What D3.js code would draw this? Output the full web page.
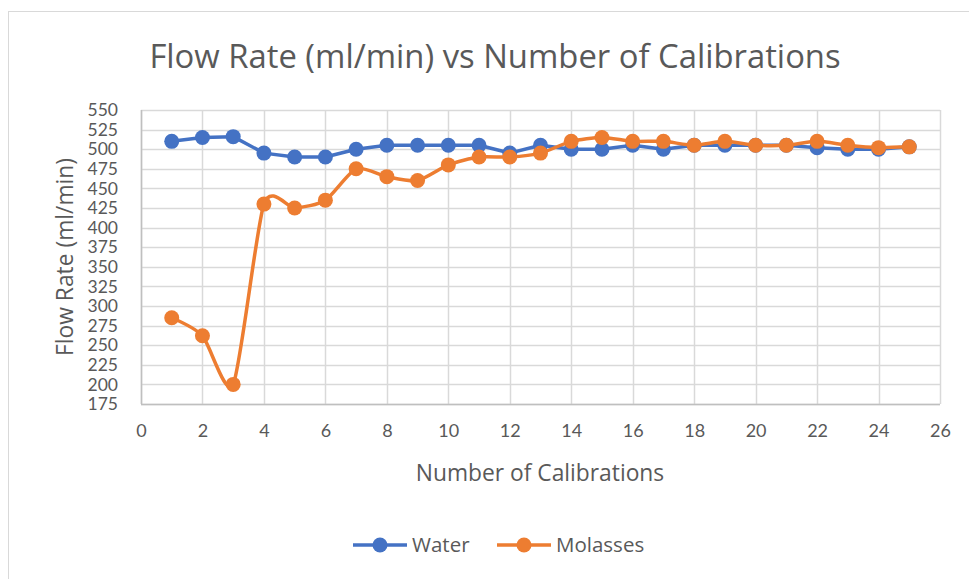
<!DOCTYPE html>
<html>
<head>
<meta charset="utf-8">
<script src="https://cdn.jsdelivr.net/npm/d3@7"></script>
<style>
  body { margin: 0; background: #fff; }
  text { font-family: "Open Sans", Lato, sans-serif; fill: #595959; }
</style>
</head>
<body>
<div id="chart-area"></div>
<script>
// data
var calibrations = [1,2,3,4,5,6,7,8,9,10,11,12,13,14,15,16,17,18,19,20,21,22,23,24,25];
var water    = [510,515,516,495,490,490,500,505,505,505,505,495,505,500,500,505,500,505,505,505,505,502,500,500,503];
var molasses = [285,262,200,430,425,435,475,465,460,480,490,490,495,510,515,510,510,505,510,505,505,510,505,502,503];
var xTicks = [0,2,4,6,8,10,12,14,16,18,20,22,24,26];
var yTicks = [175,200,225,250,275,300,325,350,375,400,425,450,475,500,525,550];

var W = 969, H = 579;
var margin = {top: 110, right: 29, bottom: 175, left: 141},
    width = W - margin.left - margin.right,
    height = H - margin.top - margin.bottom;

var svg = d3.select("#chart-area")
  .append("svg")
    .attr("width", W)
    .attr("height", H);

// chart border
svg.append("rect")
  .attr("x", 8.5).attr("y", 11.5)
  .attr("width", W + 10).attr("height", H + 10)
  .attr("fill", "none")
  .attr("stroke", "#d9d9d9");

var g = svg.append("g")
  .attr("transform", "translate(" + margin.left + "," + margin.top + ")");

var x = d3.scaleLinear().domain([0, 26]).range([0, width]);
var y = d3.scaleLinear().domain([175, 550]).range([height, 0]);

// gridlines
g.append("g")
  .selectAll("line.h")
  .data(yTicks)
  .enter().append("line")
    .attr("x1", 0).attr("x2", width)
    .attr("y1", function(d) { return Math.round(y(d)) + 0.5; })
    .attr("y2", function(d) { return Math.round(y(d)) + 0.5; })
    .attr("stroke", "#d9d9d9").attr("stroke-width", 1.5);

g.append("g")
  .selectAll("line.v")
  .data(xTicks)
  .enter().append("line")
    .attr("y1", 0).attr("y2", height)
    .attr("x1", function(d) { return Math.round(x(d)) + 0.5; })
    .attr("x2", function(d) { return Math.round(x(d)) + 0.5; })
    .attr("stroke", "#d9d9d9").attr("stroke-width", 1.5);

// axis lines
g.append("line")
  .attr("x1", 0).attr("x2", width)
  .attr("y1", height + 0.5).attr("y2", height + 0.5)
  .attr("stroke", "#bfbfbf").attr("stroke-width", 1.5);
g.append("line")
  .attr("x1", 0.5).attr("x2", 0.5)
  .attr("y1", 0).attr("y2", height)
  .attr("stroke", "#bfbfbf").attr("stroke-width", 1.5);

// tick labels through d3 axes
var xAxis = d3.axisBottom(x).tickValues(xTicks).tickSize(0).tickPadding(20);
var gx = g.append("g")
  .attr("transform", "translate(0," + height + ")")
  .call(xAxis);
gx.select(".domain").remove();
gx.selectAll("text").attr("font-size", "18px").style("font-family", "Lato, sans-serif").attr("fill", "#595959");

var yAxis = d3.axisLeft(y).tickValues(yTicks).tickSize(0).tickPadding(23);
var gy = g.append("g").call(yAxis);
gy.select(".domain").remove();
gy.selectAll("text").attr("font-size", "17.5px").style("font-family", "Lato, sans-serif").attr("fill", "#595959");

// title
svg.append("text")
  .attr("x", 495)
  .attr("y", 68)
  .attr("text-anchor", "middle")
  .attr("font-size", "32.8px")
  .text("Flow Rate (ml/min) vs Number of Calibrations");

// axis titles
svg.append("text")
  .attr("x", 540)
  .attr("y", 481)
  .attr("text-anchor", "middle")
  .attr("font-size", "22.8px")
  .text("Number of Calibrations");

svg.append("text")
  .attr("transform", "translate(73,257) rotate(-90)")
  .attr("text-anchor", "middle")
  .attr("font-size", "22.8px")
  .text("Flow Rate (ml/min)");

var series = [
  {name: "Water", values: water, color: "#4472c4", curve: d3.curveLinear},
  {name: "Molasses", values: molasses, color: "#ed7d31", curve: d3.curveCardinal.tension(0.3)}
];

series.forEach(function(s) {
  var line = d3.line()
    .x(function(d, i) { return x(calibrations[i]); })
    .y(function(d) { return y(d); })
    .curve(s.curve);

  g.append("path")
    .datum(s.values)
    .attr("d", line)
    .attr("fill", "none")
    .attr("stroke", s.color)
    .attr("stroke-width", 3.5)
    .attr("stroke-linejoin", "round");

  g.append("g")
    .selectAll("circle")
    .data(s.values)
    .enter().append("circle")
      .attr("cx", function(d, i) { return x(calibrations[i]); })
      .attr("cy", function(d) { return y(d); })
      .attr("r", 7.5)
      .attr("fill", s.color);
});

// legend
var legendX = [353, 497];
var legend = svg.append("g");
series.forEach(function(s, i) {
  var lg = legend.append("g").attr("transform", "translate(" + legendX[i] + ",545)");
  lg.append("line").attr("x1", 0).attr("x2", 54).attr("y1", 0).attr("y2", 0)
    .attr("stroke", s.color).attr("stroke-width", 3.5);
  lg.append("circle").attr("cx", 27).attr("cy", 0).attr("r", 7.5).attr("fill", s.color);
  lg.append("text").attr("x", 59).attr("y", 7).attr("font-size", "20.5px").text(s.name);
});
</script>
</body>
</html>
